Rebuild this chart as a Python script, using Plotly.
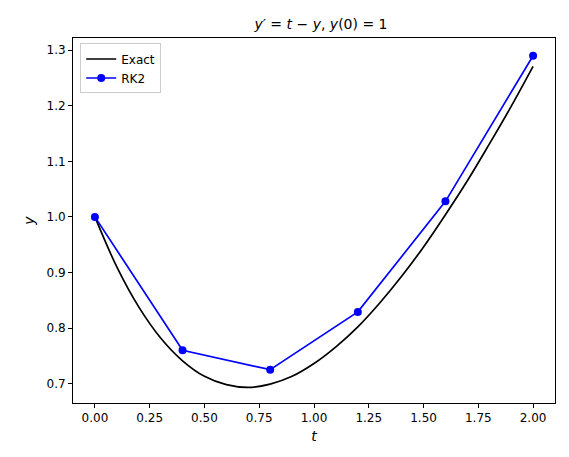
import plotly.graph_objects as go

# exact solution
t_exact = [0.0, 0.1, 0.2, 0.3, 0.4, 0.5, 0.6, 0.7, 0.8, 0.9, 1.0,
           1.1, 1.2, 1.3, 1.4, 1.5, 1.6, 1.7, 1.8, 1.9, 2.0]
y_exact = [1.0, 0.910, 0.838, 0.782, 0.741, 0.713, 0.698, 0.693, 0.699, 0.713, 0.736,
           0.766, 0.802, 0.845, 0.893, 0.946, 1.004, 1.065, 1.131, 1.199, 1.271]

# RK2 steps
t_rk2 = [0.0, 0.4, 0.8, 1.2, 1.6, 2.0]
y_rk2 = [1.0, 0.760, 0.725, 0.829, 1.028, 1.290]

fig = go.Figure()
fig.add_trace(go.Scatter(x=t_exact, y=y_exact, mode="lines", name="Exact",
                         line=dict(color="black", width=1.7, shape="spline")))
fig.add_trace(go.Scatter(x=t_rk2, y=y_rk2, mode="lines+markers", name="RK2",
                         line=dict(color="blue", width=1.7),
                         marker=dict(color="blue", size=8)))

axis = dict(showline=True, linecolor="black", linewidth=1, mirror=True,
            ticks="outside", ticklen=4, tickcolor="black", showgrid=False,
            zeroline=False, tickfont=dict(size=12, color="black"))
fig.update_layout(
    width=569, height=457,
    paper_bgcolor="white", plot_bgcolor="white",
    font=dict(family="DejaVu Sans", color="black"),
    margin=dict(l=65, r=22, t=30, b=62),
    title=dict(text="<i>y′</i> = <i>t</i> − <i>y</i>, <i>y</i>(0) = 1",
               x=0.55, xanchor="center", y=0.975, font=dict(size=14)),
    xaxis=dict(axis, range=[-0.1, 2.1],
               tickvals=[0, 0.25, 0.5, 0.75, 1.0, 1.25, 1.5, 1.75, 2.0],
               ticktext=["0.00", "0.25", "0.50", "0.75", "1.00", "1.25", "1.50", "1.75", "2.00"],
               title=dict(text="<i>t</i>", font=dict(size=14), standoff=6)),
    yaxis=dict(axis, range=[0.665, 1.322],
               tickvals=[0.7, 0.8, 0.9, 1.0, 1.1, 1.2, 1.3],
               ticktext=["0.7", "0.8", "0.9", "1.0", "1.1", "1.2", "1.3"],
               title=dict(text="<i>y</i>", font=dict(size=14), standoff=8)),
    legend=dict(x=0.015, y=0.985, xanchor="left", yanchor="top",
                bgcolor="white", bordercolor="#cccccc", borderwidth=1,
                font=dict(size=12)),
    showlegend=True,
)

fig.write_html("out.html")
